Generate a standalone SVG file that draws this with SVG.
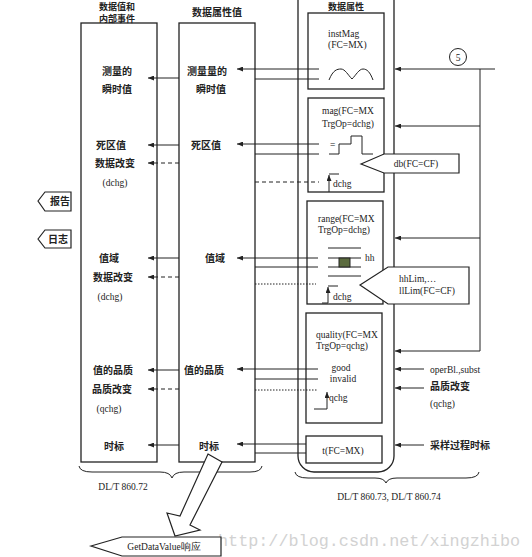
<svg xmlns="http://www.w3.org/2000/svg" width="532" height="557" viewBox="0 0 532 557">
<defs>
<style>
.ln{stroke:#222;stroke-width:1;fill:none}
.dash{stroke:#222;stroke-width:1;fill:none;stroke-dasharray:4 3}
.dot{stroke:#222;stroke-width:1;fill:none;stroke-dasharray:1.5 1.5}
.box{fill:none;stroke:#222;stroke-width:1.3}
.wbox{fill:#fff;stroke:#222;stroke-width:1.2}
.cjk{font-family:"Noto Sans CJK SC",sans-serif;font-size:10px;font-weight:bold;fill:#222}
.ttl{font-size:9px}
.lat{font-family:"Liberation Serif",serif;font-size:9.5px;fill:#222}
.mid{text-anchor:middle}
</style>
<marker id="ah" markerWidth="6" markerHeight="5" refX="6" refY="2.5" orient="auto" markerUnits="userSpaceOnUse"><path d="M0,0 L6,2.5 L0,5 z" fill="#222"/></marker>
</defs>
<rect width="532" height="557" fill="#fff"/>

<text x="218" y="546" font-family="Liberation Mono,monospace" font-size="16.8" fill="#d2d2d2">http://blog.csdn.net/xingzhibo</text>

<g id="col1">
<rect class="box" x="81" y="23" width="76" height="439"/>
<text class="cjk ttl mid" x="117" y="9.5">数据值和</text>
<text class="cjk ttl mid" x="117" y="21.5">内部事件</text>
<text class="cjk mid" x="117" y="75">测量的</text>
<text class="cjk mid" x="117" y="93">瞬时值</text>
<text class="cjk mid" x="111" y="149">死区值</text>
<text class="cjk mid" x="115" y="167">数据改变</text>
<text class="lat mid" x="115" y="186">(dchg)</text>
<text class="cjk mid" x="109" y="262">值域</text>
<text class="cjk mid" x="113" y="281">数据改变</text>
<text class="lat mid" x="110" y="300">(dchg)</text>
<text class="cjk mid" x="113" y="374">值的品质</text>
<text class="cjk mid" x="112" y="393">品质改变</text>
<text class="lat mid" x="109" y="412">(qchg)</text>
<text class="cjk mid" x="114" y="450">时标</text>
</g>

<g id="col2">
<rect class="box" x="179" y="23" width="76" height="439"/>
<text class="cjk mid" x="217" y="16">数据属性值</text>
<text class="cjk mid" x="207" y="75">测量量的</text>
<text class="cjk mid" x="211" y="93">瞬时值</text>
<text class="cjk mid" x="206" y="149">死区值</text>
<text class="cjk mid" x="215" y="262">值域</text>
<text class="cjk mid" x="204" y="374">值的品质</text>
<text class="cjk mid" x="209" y="450">时标</text>
</g>

<g id="col3">
<rect class="box" x="298" y="-20" width="96" height="492" rx="16"/>
<text class="cjk ttl mid" x="346" y="10">数据属性</text>
</g>

<g id="instMag">
<rect class="box" x="308" y="13" width="76" height="76"/>
<text class="lat" x="328" y="37">instMag</text>
<text class="lat" x="328" y="48">(FC=MX)</text>
<path class="ln" d="M329,80 C333,70 337,69 341,69 C345,69 348,75 352,79 C356,75 359,69 363,69 C367,69 370,72 373,80"/>
</g>

<g id="mag">
<rect class="box" x="308" y="98" width="76" height="94"/>
<text class="lat" x="322" y="114">mag(FC=MX</text>
<text class="lat" x="322" y="127">TrgOp=dchg)</text>
<text class="lat" x="330" y="148">=</text>
<path class="ln" d="M329,154 H339 V144 H351 V136 H362 V154 H373"/>
<line class="ln" x1="329" y1="192" x2="329" y2="175" marker-end="url(#ah)"/>
<path class="ln" d="M329,174 H339"/>
<text class="lat" x="333" y="187">dchg</text>
</g>

<g id="range">
<rect class="box" x="307" y="201" width="76" height="103"/>
<text class="lat" x="318" y="222">range(FC=MX</text>
<text class="lat" x="318" y="233">TrgOp=dchg)</text>
<path class="ln" d="M328,248 H361 M328,258 H361 M328,267 H361 M328,276 H361"/>
<rect x="339" y="258" width="11" height="9" fill="#5b6b3e" stroke="#222" stroke-width="1"/>
<text class="lat" x="365" y="261">hh</text>
<line class="ln" x1="328" y1="303" x2="328" y2="287" marker-end="url(#ah)"/>
<path class="ln" d="M322,303 H328 M328,286 H338"/>
<text class="lat" x="333" y="300">dchg</text>
</g>

<g id="quality">
<rect class="box" x="306" y="313" width="76" height="110"/>
<text class="lat" x="316" y="338">quality(FC=MX</text>
<text class="lat" x="316" y="349">TrgOp=qchg)</text>
<text class="lat mid" x="341" y="371">good</text>
<text class="lat mid" x="343" y="382">invalid</text>
<path class="ln" d="M314,409 H327"/>
<line class="ln" x1="327" y1="409" x2="327" y2="392" marker-end="url(#ah)"/>
<text class="lat" x="329" y="401">qchg</text>
</g>

<g id="t">
<rect class="box" x="306" y="436" width="76" height="27"/>
<text class="lat mid" x="343" y="454">t(FC=MX)</text>
</g>

<g id="connectors">
<line class="ln" x1="319" y1="69" x2="237" y2="69" marker-end="url(#ah)"/>
<line class="ln" x1="319" y1="79" x2="255" y2="79"/>
<line class="ln" x1="179" y1="78" x2="148" y2="78" marker-end="url(#ah)"/>
<line class="ln" x1="319" y1="144" x2="237" y2="144" marker-end="url(#ah)"/>
<line class="ln" x1="319" y1="154" x2="255" y2="154"/>
<line class="ln" x1="179" y1="145" x2="148" y2="145" marker-end="url(#ah)"/>
<line class="dash" x1="179" y1="163" x2="148" y2="163" marker-end="url(#ah)"/>
<line class="dash" x1="255" y1="182" x2="319" y2="182"/>
<line class="ln" x1="318" y1="258" x2="237" y2="258" marker-end="url(#ah)"/>
<line class="ln" x1="318" y1="267" x2="255" y2="267"/>
<line class="ln" x1="179" y1="258" x2="148" y2="258" marker-end="url(#ah)"/>
<line class="dash" x1="179" y1="277" x2="148" y2="277" marker-end="url(#ah)"/>
<line class="dot" x1="255" y1="284" x2="316" y2="284"/>
<line class="ln" x1="318" y1="369" x2="237" y2="369" marker-end="url(#ah)"/>
<line class="ln" x1="318" y1="379" x2="255" y2="379"/>
<line class="ln" x1="179" y1="370" x2="148" y2="370" marker-end="url(#ah)"/>
<line class="dash" x1="179" y1="389" x2="148" y2="389" marker-end="url(#ah)"/>
<line class="dot" x1="255" y1="390" x2="318" y2="390"/>
<line class="ln" x1="306" y1="444" x2="237" y2="444" marker-end="url(#ah)"/>
<line class="ln" x1="306" y1="453" x2="255" y2="453"/>
<line class="ln" x1="179" y1="445" x2="148" y2="445" marker-end="url(#ah)"/>
<line class="ln" x1="495" y1="69" x2="395" y2="69" marker-end="url(#ah)"/>
<line class="ln" x1="480" y1="69" x2="480" y2="351"/>
<line class="ln" x1="480" y1="126" x2="395" y2="126" marker-end="url(#ah)"/>
<line class="ln" x1="480" y1="238" x2="395" y2="238" marker-end="url(#ah)"/>
<line class="ln" x1="480" y1="351" x2="395" y2="351" marker-end="url(#ah)"/>
<line class="ln" x1="424" y1="369" x2="395" y2="369" marker-end="url(#ah)"/>
<line class="ln" x1="424" y1="388" x2="395" y2="388" marker-end="url(#ah)"/>
<line class="ln" x1="424" y1="445" x2="395" y2="445" marker-end="url(#ah)"/>
</g>

<g id="circle5">
<circle cx="458" cy="57" r="8.5" fill="#fff" stroke="#222" stroke-width="1"/>
<text class="lat mid" x="458" y="60.5">5</text>
</g>

<g id="db">
<polygon class="wbox" points="361,164 384,154 459,154 459,173 384,173"/>
<text class="lat mid" x="416" y="167">db(FC=CF)</text>
</g>

<g id="lim">
<polygon class="wbox" points="360,285 388,267 469,267 469,304 388,304"/>
<text class="lat" x="399" y="282">hhLim,…</text>
<text class="lat" x="399" y="294">llLim(FC=CF)</text>
</g>

<g id="rightLabels">
<text class="lat" x="430" y="373">operBl.,subst</text>
<text class="cjk" x="430" y="390">品质改变</text>
<text class="lat" x="430" y="407">(qchg)</text>
<text class="cjk" x="430" y="449">采样过程时标</text>
</g>

<g id="report">
<polygon class="wbox" points="38,201 45,192 71,192 71,211 45,211"/>
<text class="cjk mid" x="60" y="205">报告</text>
</g>
<g id="log">
<polygon class="wbox" points="38,239 45,230 71,230 71,248 45,248"/>
<text class="cjk mid" x="58" y="243">日志</text>
</g>

<g id="braces">
<path class="ln" d="M79,466 Q80,472 92,472 L160,472 Q170,472 172,478 Q174,472 184,472 L250,472 Q261,472 262,466"/>
<text class="lat mid" x="123" y="490">DL/T 860.72</text>
<path class="ln" d="M295,472 Q296,478 308,478 L375,478 Q384,478 386,483 Q388,478 397,478 L466,478 Q478,478 479,472"/>
<text class="lat mid" x="389" y="500">DL/T 860.73, DL/T 860.74</text>
</g>

<g id="bigArrow">
<polygon class="wbox" points="208,454 222,462 190,525 200,530 175,536 167,513 180,516"/>
</g>

<g id="getDataValue">
<polygon class="wbox" points="91,546 122,537 221,537 221,556 122,556"/>
<text class="lat mid" x="164" y="550" font-size="10">GetDataValue响应</text>
</g>
</svg>
